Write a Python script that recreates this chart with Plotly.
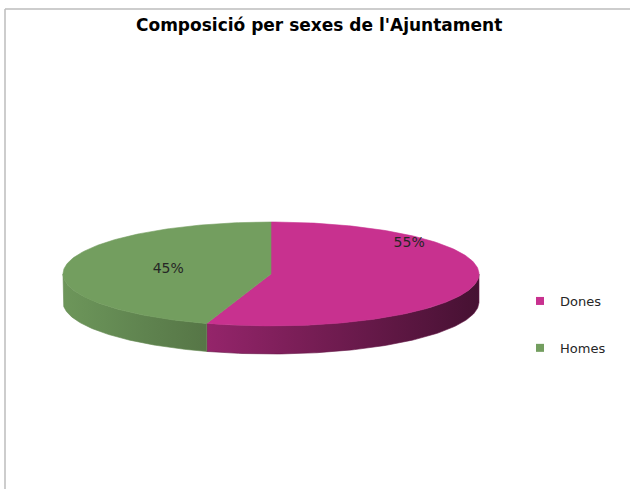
import numpy as np
import plotly.graph_objects as go

# ---- data -------------------------------------------------------------
categories = ["Dones", "Homes"]
values = [55, 45]
title_text = "Composició per sexes de l'Ajuntament"

# ---- styling ----------------------------------------------------------
top_colors = ["#C8318F", "#739E5F"]
base_rgb = [(200, 49, 143), (115, 158, 95)]
label_style = [(0.88, -50), (0.5, 0)]   # (radial fraction, angular nudge in degrees)
W, H = 630, 489
CX, CY, RX, RY, DEPTH = 271, 274, 208, 52, 28
FONT = "DejaVu Sans"

shares = np.array(values, dtype=float) / sum(values)
bounds = np.concatenate([[0.0], np.cumsum(shares) * 360.0])  # clockwise from 12 o'clock


def ellipse(theta_cw, dy=0.0):
    t = np.radians(90.0 - np.asarray(theta_cw))
    return CX + RX * np.cos(t), CY - RY * np.sin(t) + dy


def shade(rgb, u):
    f = 0.95 - 0.6 * u
    return "rgb({},{},{})".format(*[int(round(c * f)) for c in rgb])


fig = go.Figure()

# side walls (front half of the disc), shaded from left to right
x_lo, x_hi = CX - RX, CX + RX
for i, cat in enumerate(categories):
    a0, a1 = bounds[i], bounds[i + 1]
    lo, hi = max(a0, 90.0), min(a1, 270.0)
    if hi <= lo:
        continue
    th = np.linspace(lo, hi, 120)
    xt, yt = ellipse(th)
    xb, yb = ellipse(th[::-1], DEPTH)
    xs = np.concatenate([xt, xb, xt[:1]])
    ys = np.concatenate([yt, yb, yt[:1]])
    stops = np.linspace(0, 1, 11)
    fig.add_trace(go.Scatter(
        x=xs, y=ys, mode="lines", fill="toself",
        line=dict(width=0.6, color=shade(base_rgb[i], (np.mean(xs) - x_lo) / (2 * RX))),
        fillgradient=dict(type="horizontal", start=x_lo, stop=x_hi,
                          colorscale=[[s, shade(base_rgb[i], s)] for s in stops]),
        showlegend=False, hoverinfo="skip"))

# top faces
for i, cat in enumerate(categories):
    a0, a1 = bounds[i], bounds[i + 1]
    th = np.linspace(a0, a1, 200)
    xa, ya = ellipse(th)
    xs = np.concatenate([[CX], xa, [CX]])
    ys = np.concatenate([[CY], ya, [CY]])
    fig.add_trace(go.Scatter(
        x=xs, y=ys, mode="lines", fill="toself", fillcolor=top_colors[i],
        line=dict(width=0.6, color=top_colors[i]),
        showlegend=False, hoverinfo="skip"))

# percentage labels
lx, ly, lt = [], [], []
for i, v in enumerate(values):
    r, nudge = label_style[i]
    mid = (bounds[i] + bounds[i + 1]) / 2 + nudge
    t = np.radians(90.0 - mid)
    lx.append(CX + r * RX * np.cos(t))
    ly.append(CY - r * RY * np.sin(t))
    lt.append(f"{round(shares[i] * 100)}%")
fig.add_trace(go.Scatter(x=lx, y=ly, mode="text", text=lt,
                         textfont=dict(family=FONT, size=14, color="#262626"),
                         showlegend=False, hoverinfo="skip"))

# legend entries
for i, cat in enumerate(categories):
    fig.add_trace(go.Scatter(
        x=[None], y=[None], mode="markers", name=cat, legendgroup=cat,
        marker=dict(symbol="square", size=8, color=top_colors[i])))

fig.add_annotation(x=319, y=25, xref="x", yref="y", text=f"<b>{title_text}</b>",
                   showarrow=False, font=dict(family=FONT, size=17, color="#000000"))

# chart frame
fig.add_shape(type="line", x0=5, y0=9, x1=W, y1=9, xref="x", yref="y",
              line=dict(color="#BDBDBD", width=1.5))
fig.add_shape(type="line", x0=5, y0=9, x1=5, y1=H, xref="x", yref="y",
              line=dict(color="#BDBDBD", width=1.5))

fig.update_layout(
    width=W, height=H, autosize=False,
    margin=dict(l=0, r=0, t=0, b=0),
    paper_bgcolor="white", plot_bgcolor="white",
    xaxis=dict(visible=False, range=[0, W], fixedrange=True),
    yaxis=dict(visible=False, range=[H, 0], fixedrange=True),
    legend=dict(x=520 / W, y=1 - 286 / H, xanchor="left", yanchor="top",
                font=dict(family=FONT, size=13, color="#262626"),
                tracegroupgap=27, itemwidth=30, bgcolor="rgba(0,0,0,0)"),
)

fig.write_html("out.html")
